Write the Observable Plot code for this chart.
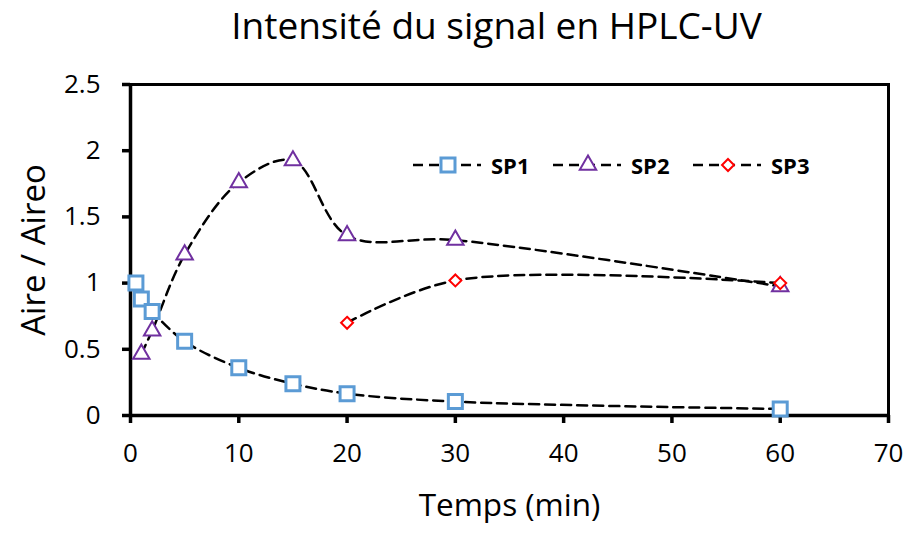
<!DOCTYPE html>
<html>
<head>
<meta charset="utf-8">
<script src="https://cdn.jsdelivr.net/npm/d3@7"></script>
<script src="https://cdn.jsdelivr.net/npm/@observablehq/plot@0.6"></script>
<style>
  html, body { margin: 0; padding: 0; background: #fff; }
  body { font-family: "Open Sans", sans-serif; color: #000; }
  #wrap { position: relative; width: 909px; height: 533px; overflow: hidden; }
  #title { height: 60px; box-sizing: border-box; padding-top: 0px; padding-left: 84px; text-align: center;
           font-size: 37px; line-height: 50px; white-space: nowrap; }
  #legend { position: absolute; left: 413px; top: 152px; display: flex; }
  .item { display: flex; align-items: center; width: 140px; }
  .item span { font-weight: 700; font-size: 22px; margin-left: 10px; line-height: 24px; }
</style>
</head>
<body>
<div id="wrap">
  <div id="title"></div>
  <div id="chart"></div>
  <div id="legend"></div>
</div>
<script>
// ---- Data ----
const titleText = "Intensité du signal en HPLC-UV";
const xLabel = "Temps (min)";
const yLabel = "Aire / Aireo";
const seriesNames = ["SP1", "SP2", "SP3"];

const timesSP1 = [0.5, 1, 2, 5, 10, 15, 20, 30, 60];
const valuesSP1 = [1.00, 0.88, 0.785, 0.56, 0.36, 0.24, 0.165, 0.105, 0.05];

const timesSP2 = [1, 2, 5, 10, 15, 20, 30, 60];
const valuesSP2 = [0.465, 0.64, 1.215, 1.76, 1.925, 1.36, 1.325, 0.975];

const timesSP3 = [20, 30, 60];
const valuesSP3 = [0.70, 1.02, 1.00];

const xTicks = [0, 10, 20, 30, 40, 50, 60, 70];
const yTicks = [0, 0.5, 1, 1.5, 2, 2.5];

// ---- Styles (not data) ----
const colors = {SP1: "#5B9BD5", SP2: "#7030A0", SP3: "#FF0000"};
const symbols = {SP1: "square", SP2: "triangle", SP3: "diamond2"};
const radii = {SP1: 7.9, SP2: 6.1, SP3: 5.4};
const widths = {SP1: 3, SP2: 2, SP3: 2};

document.getElementById("title").textContent = titleText;

const rows = [
  ...timesSP1.map((t, i) => ({series: "SP1", t, v: valuesSP1[i]})),
  ...timesSP2.map((t, i) => ({series: "SP2", t, v: valuesSP2[i]})),
  ...timesSP3.map((t, i) => ({series: "SP3", t, v: valuesSP3[i]}))
];

const marks = [
  Plot.frame({stroke: "#000", strokeWidth: 3}),
  Plot.axisY({ticks: yTicks, tickSize: 8, tickPadding: 22, strokeWidth: 3.5, fontSize: 26,
              label: null, tickFormat: d => String(d)}),
  Plot.axisX({ticks: xTicks, tickSize: 8, tickPadding: 20, strokeWidth: 3.5, fontSize: 26,
              label: null, tickFormat: d => String(d)}),
  Plot.ruleX([0], {stroke: "#000", strokeWidth: 3.5}),
  Plot.ruleY([0], {stroke: "#000", strokeWidth: 3.5}),
  Plot.text([xLabel], {frameAnchor: "bottom", dy: 100, fontSize: 31.5, fill: "#000"}),
  Plot.text([yLabel], {frameAnchor: "left", textAnchor: "middle", dx: -96, rotate: -90, fontSize: 33, fill: "#000"})
];
for (const s of seriesNames) {
  const d = rows.filter(r => r.series === s);
  marks.push(Plot.line(d, {x: "t", y: "v", curve: "catmull-rom", stroke: "#000",
                           strokeWidth: 2.5, strokeDasharray: "10,6"}));
}
for (const s of seriesNames) {
  const d = rows.filter(r => r.series === s);
  marks.push(Plot.dot(d, {x: "t", y: "v", symbol: () => symbols[s], r: radii[s],
                          stroke: colors[s], strokeWidth: widths[s], fill: "#fff"}));
}

const chart = Plot.plot({
  width: 909,
  height: 473,
  marginTop: 24,
  marginBottom: 118,
  marginLeft: 130,
  marginRight: 21,
  style: {fontFamily: "'Open Sans', sans-serif", color: "#000", background: "#fff"},
  x: {domain: [0, 70]},
  y: {domain: [0, 2.5]},
  symbol: {type: "identity"},
  marks
});
document.getElementById("chart").appendChild(chart);

// ---- Legend ----
const legend = document.getElementById("legend");
for (const s of seriesNames) {
  const item = document.createElement("div");
  item.className = "item";
  const sym = d3.symbol(s === "SP1" ? d3.symbolSquare : s === "SP2" ? d3.symbolTriangle : d3.symbolDiamond2,
                        Math.PI * radii[s] * radii[s])();
  item.innerHTML = `<svg width="68" height="26" viewBox="0 0 68 26">
    <line x1="0" y1="13" x2="68" y2="13" stroke="#000" stroke-width="2.5" stroke-dasharray="10,6"/>
    <path d="${sym}" transform="translate(35,13)" fill="#fff" stroke="${colors[s]}" stroke-width="${widths[s]}"/>
  </svg><span>${s}</span>`;
  legend.appendChild(item);
}
</script>
</body>
</html>
